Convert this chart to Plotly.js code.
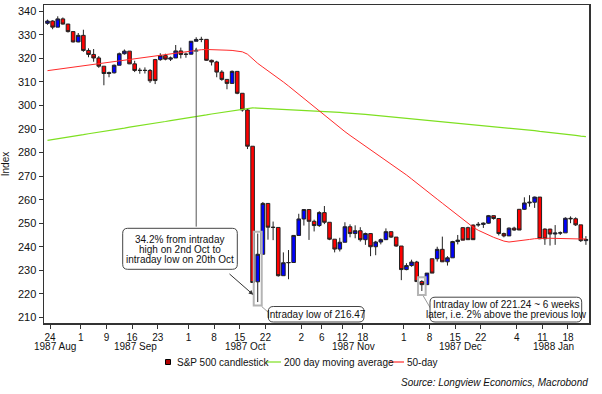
<!DOCTYPE html>
<html><head><meta charset="utf-8">
<script src="https://cdn.plot.ly/plotly-3.0.1.min.js"></script>
<style>html,body{margin:0;padding:0;background:#fff}#chart{width:602px;height:394px}</style>
</head><body><div id="chart"></div>
<script>
// ---- data ----
const dates = ["1987-08-21","1987-08-24","1987-08-25","1987-08-26","1987-08-27","1987-08-28","1987-08-31",
"1987-09-01","1987-09-02","1987-09-03","1987-09-04","1987-09-08","1987-09-09","1987-09-10","1987-09-11",
"1987-09-14","1987-09-15","1987-09-16","1987-09-17","1987-09-18","1987-09-21","1987-09-22","1987-09-23",
"1987-09-24","1987-09-25","1987-09-28","1987-09-29","1987-09-30","1987-10-01","1987-10-02","1987-10-05",
"1987-10-06","1987-10-07","1987-10-08","1987-10-09","1987-10-12","1987-10-13","1987-10-14","1987-10-15",
"1987-10-16","1987-10-19","1987-10-20","1987-10-21","1987-10-22","1987-10-23","1987-10-26","1987-10-27",
"1987-10-28","1987-10-29","1987-10-30","1987-11-02","1987-11-03","1987-11-04","1987-11-05","1987-11-06",
"1987-11-09","1987-11-10","1987-11-11","1987-11-12","1987-11-13","1987-11-16","1987-11-17","1987-11-18",
"1987-11-19","1987-11-20","1987-11-23","1987-11-24","1987-11-25","1987-11-27","1987-11-30","1987-12-01",
"1987-12-02","1987-12-03","1987-12-04","1987-12-07","1987-12-08","1987-12-09","1987-12-10","1987-12-11",
"1987-12-14","1987-12-15","1987-12-16","1987-12-17","1987-12-18","1987-12-21","1987-12-22","1987-12-23",
"1987-12-24","1987-12-28","1987-12-29","1987-12-30","1987-12-31","1988-01-04","1988-01-05","1988-01-06",
"1988-01-07","1988-01-08","1988-01-11","1988-01-12","1988-01-13","1988-01-14","1988-01-15","1988-01-18",
"1988-01-19","1988-01-20","1988-01-21"];

const openV = [334.9,335.9,333.3,336.8,334.6,331.4,327.0,
329.8,323.4,321.7,320.2,316.7,313.6,313.9,317.1,
322.0,323.1,317.7,314.9,314.95,314.9,319.5,319.5,
321.2,319.7,320.2,323.2,321.7,321.8,327.3,328.07,
328.1,319.2,318.5,314.2,311.1,309.4,314.5,305.2,
298.1,282.7,225.1,236.8,258.4,248.3,248.2,227.7,
233.2,233.3,244.8,251.8,255.8,250.8,249.0,254.5,
250.4,243.2,239.0,241.9,248.5,245.6,246.8,243.0,
245.6,240.0,242.0,243.0,246.4,244.1,240.3,230.3,
232.0,233.5,225.2,223.9,234.9,234.9,238.9,233.6,
235.3,242.2,248.1,248.1,249.2,249.2,249.5,250.0,
253.2,252.0,245.6,244.6,247.9,255.9,255.9,258.6,
258.9,261.1,247.5,247.5,245.4,245.8,245.9,252.1,
251.9,249.3,242.6];
const highV = [336.5,336.2,337.9,337.4,334.7,331.5,330.8,
332.2,324.3,324.0,321.0,316.7,314.4,317.4,322.5,
323.8,323.1,319.0,316.0,316.2,315.5,319.8,322.2,
322.0,320.8,325.7,324.6,322.5,327.4,329.0,329.2,
328.1,319.5,319.0,315.0,311.1,314.9,314.5,305.2,
298.9,282.7,245.6,259.0,258.4,250.7,248.2,237.6,
238.6,245.0,254.0,256.0,255.8,251.5,255.1,257.3,
250.4,243.2,243.8,250.4,249.5,249.1,248.3,246.0,
245.6,242.5,243.5,247.8,246.4,244.1,240.3,233.0,
234.5,234.0,225.8,228.8,234.9,240.0,244.3,236.0,
242.5,245.0,248.3,248.5,249.5,250.5,250.3,253.5,
253.3,252.0,246.0,248.2,248.5,256.0,261.0,261.9,
261.3,261.1,247.8,247.6,249.2,246.5,252.5,252.9,
252.5,249.3,244.5];
const lowV = [334.3,332.4,333.3,334.4,331.0,326.8,326.9,
322.8,320.5,318.6,316.0,308.6,312.0,313.6,317.1,
321.6,317.6,314.2,313.5,313.6,309.6,309.1,319.0,
319.2,318.9,320.2,320.0,320.3,321.8,327.3,326.9,
319.0,317.0,312.0,310.5,306.9,309.4,304.8,297.4,
281.5,224.8,216.5,236.8,243.0,242.8,227.3,227.7,
226.2,233.3,244.8,249.0,242.9,246.5,248.4,249.6,
242.8,237.6,238.0,241.9,244.0,243.6,242.2,240.8,
236.0,236.4,241.0,243.0,243.7,240.0,225.8,230.0,
231.5,225.2,221.2,223.9,228.8,233.7,233.5,232.0,
235.3,241.0,242.8,243.0,243.0,248.5,248.0,249.8,
251.5,244.8,244.0,244.6,246.8,247.1,255.6,257.0,
256.5,243.2,240.8,240.5,240.8,245.0,245.9,250.0,
248.8,242.0,240.8];
const closeV = [335.9,333.3,336.8,334.6,331.4,327.0,329.8,
323.4,321.7,320.2,316.7,313.6,313.9,317.1,322.0,
323.1,317.7,314.9,314.95,314.9,310.5,310.6,321.2,
319.7,320.2,323.2,321.7,321.8,327.3,328.07,328.08,
319.2,318.5,314.2,311.1,309.4,314.5,305.2,298.1,
282.7,224.8,236.8,258.4,248.3,248.2,227.7,233.2,
233.3,244.8,251.8,255.8,250.8,249.0,254.5,250.4,
243.2,239.0,241.9,248.5,245.6,246.8,243.0,245.6,
240.0,242.0,243.0,246.4,244.1,240.3,230.3,232.0,
233.5,225.2,223.9,228.8,228.8,238.9,233.6,235.3,
242.2,242.8,242.8,243.0,243.0,249.5,250.0,253.2,
252.0,245.6,244.6,247.9,247.1,247.1,258.6,258.9,
261.1,243.4,243.4,245.4,245.8,245.9,252.1,251.9,
249.3,242.6,243.1];

const ma200 = [285.2,285.5,285.9,286.2,286.6,286.9,287.3,287.6,288.0,288.3,
288.7,289.0,289.4,289.7,290.1,290.4,290.8,291.1,291.5,291.8,
292.2,292.5,292.9,293.2,293.6,293.9,294.3,294.6,295.0,295.3,
295.7,296.0,296.4,296.7,297.1,297.4,297.8,298.1,298.5,298.8,
299.0,298.9,298.8,298.7,298.6,298.5,298.4,298.3,298.2,298.1,
298.0,297.9,297.8,297.6,297.5,297.4,297.2,297.1,296.9,296.8,
296.6,296.4,296.2,296.0,295.8,295.6,295.4,295.2,295.0,294.8,
294.6,294.4,294.2,294.0,293.8,293.6,293.4,293.2,293.0,292.8,
292.6,292.4,292.2,292.0,291.8,291.6,291.4,291.2,291.0,290.8,
290.5,290.3,290.0,289.8,289.5,289.3,289.0,288.8,288.5,288.3,
288.0,287.8,287.5,287.3,287.0,286.8];
const ma50 = [314.8,315.1,315.5,315.8,316.1,316.4,316.7,317.0,317.3,317.5,
317.8,318.1,318.4,318.7,319.0,319.3,319.6,319.9,320.2,320.5,
320.8,321.1,321.4,321.7,322.0,322.3,322.6,322.9,323.2,323.5,
323.7,323.8,323.8,323.7,323.6,323.5,323.4,323.2,322.8,321.8,
319.8,317.9,316.3,314.8,313.3,311.6,310.0,308.3,306.5,304.8,
303.0,301.2,299.3,297.5,295.7,294.0,292.2,290.5,288.9,287.3,
285.8,284.3,282.8,281.3,279.8,278.3,276.8,275.3,273.8,272.2,
270.5,268.8,267.0,265.3,263.6,261.9,260.2,258.5,256.8,255.1,
253.3,251.6,249.8,248.3,247.0,245.9,244.9,244.0,243.2,242.4,
242.0,242.2,242.5,242.8,243.1,243.4,243.6,243.6,243.6,243.5,
243.5,243.5,243.5,243.4,243.3,243.3];

const tickDates = ["1987-08-24","1987-09-01","1987-09-09","1987-09-16","1987-09-23","1987-10-01","1987-10-08",
"1987-10-15","1987-10-22","1987-11-02","1987-11-06","1987-11-12","1987-11-18","1987-12-01","1987-12-08",
"1987-12-15","1987-12-22","1988-01-04","1988-01-11","1988-01-18"];
const tickLabels = ["24","1","9","16","23","1","8","15","22","2","6","12","18","1","8","15","22","4","11","18"];
const monthLabels = ["1987 Aug","1987 Sep","1987 Oct","1987 Nov","1987 Dec","1988 Jan"];
const yTicks = [210,220,230,240,250,260,270,280,290,300,310,320,330,340];

// ---- geometry helpers ----
const W=602,H=394, L=44, R=13, T=5, B=71;
const PW=W-L-R, PH=H-T-B;
const px = v => (v-L)/PW;          // page x -> paper
const py = v => (H-B-v)/PH;        // page y -> paper
const xs = dates.map((d,i)=>i);
const idx = d => dates.indexOf(d);

function roundRect(x0,y0,x1,y1,r){
  const rx=r/PW, ry=r/PH;
  const a=px(x0), b=px(x1), t=py(y0), u=py(y1);
  return `M${a+rx},${t} L${b-rx},${t} Q${b},${t} ${b},${t-ry} L${b},${u+ry} Q${b},${u} ${b-rx},${u} L${a+rx},${u} Q${a},${u} ${a},${u+ry} L${a},${t-ry} Q${a},${t} ${a+rx},${t} Z`;
}

const FONT = 'Arial, "Liberation Sans", sans-serif';
const monthPos = [1.46, 17.16, 38.65, 59.7, 80.56, 98.7];

const traces = [
  {type:'scatter', mode:'lines', x:xs, y:ma200, line:{color:'#7ee021', width:1.2}, hoverinfo:'skip', showlegend:false},
  {type:'scatter', mode:'lines', x:xs, y:ma50, line:{color:'#ff2a2a', width:1}, hoverinfo:'skip', showlegend:false},
  {type:'candlestick', x:xs, open:openV, high:highV, low:lowV, close:closeV,
   increasing:{line:{color:'#222', width:1}, fillcolor:'#0000ff'},
   decreasing:{line:{color:'#222', width:1}, fillcolor:'#ff0000'},
   whiskerwidth:0, hoverinfo:'skip', showlegend:false}
];

const iOct20 = idx("1987-10-20"), iDec4 = idx("1987-12-04"), iOct2 = idx("1987-10-02");

const shapes = [
  {type:'rect', xref:'x', yref:'y', x0:iOct20-0.78, x1:iOct20+0.78, y0:lowV[iOct20]-1.5, y1:highV[iOct20]+0.8,
   line:{color:'#b4b4b4', width:2}, fillcolor:'rgba(0,0,0,0)', layer:'above'},
  {type:'rect', xref:'x', yref:'y', x0:iDec4-0.75, x1:iDec4+0.75, y0:lowV[iDec4]-1.7, y1:highV[iDec4]+1.2,
   line:{color:'#b4b4b4', width:2}, fillcolor:'rgba(0,0,0,0)', layer:'above'},
  {type:'line', xref:'paper', yref:'paper', x0:px(261.7), y0:py(306.5), x1:px(268.5), y1:py(312.5), line:{color:'#999', width:1}},
  {type:'line', xref:'paper', yref:'paper', x0:px(423.3), y0:py(296), x1:px(430.5), y1:py(308.3), line:{color:'#999', width:1}},
  {type:'path', xref:'paper', yref:'paper', path:roundRect(122.7,228.3,237.3,269.3,5), line:{color:'#444', width:1}, fillcolor:'#fff', layer:'above'},
  {type:'path', xref:'paper', yref:'paper', path:roundRect(268.3,306.5,364,322,5), line:{color:'#444', width:1}, fillcolor:'#fff', layer:'above'},
  {type:'path', xref:'paper', yref:'paper', path:roundRect(430,297.2,581.7,322,5), line:{color:'#444', width:1}, fillcolor:'#fff', layer:'above'},
  {type:'rect', xref:'paper', yref:'paper', x0:px(165.5), x1:px(170.5), y0:py(364.5), y1:py(359.5), line:{color:'#000', width:1}, fillcolor:'#b00000'},
  {type:'line', xref:'paper', yref:'paper', x0:px(266), x1:px(281), y0:py(362), y1:py(362), line:{color:'#7ee021', width:1.2}},
  {type:'line', xref:'paper', yref:'paper', x0:px(390), x1:px(404), y0:py(362), y1:py(362), line:{color:'#ff2a2a', width:1.2}}
];

const ann = [];
const txt = (s, x, y, opts={}) => ann.push(Object.assign({text:s, xref:'paper', yref:'paper', x:px(x), y:py(y),
  showarrow:false, xanchor:'center', yanchor:'middle', font:{family:FONT, size:10, color:'#111'}}, opts));
txt("34.2% from intraday", 180, 239.5);
txt("high on 2nd Oct to", 180, 249.6);
txt("intraday low on 20th Oct", 180, 259.7);
txt("Intraday low of 216.47", 316.2, 314.3);
txt("Intraday low of 221.24 ~ 6 weeks", 506, 304.4);
txt("later, i.e. 2% above the previous low", 506, 314.8);
ann.push({text:'', xref:'x', yref:'y', axref:'x', ayref:'y', x:iOct2, y:324.8, ax:iOct2, ay:247.9,
  showarrow:true, arrowhead:2, arrowsize:0.9, arrowwidth:1, arrowcolor:'#555'});
ann.push({text:'', xref:'x', yref:'y', axref:'x', ayref:'y', x:40.13, y:219.6, ax:35.2, ay:229.0,
  showarrow:true, arrowhead:2, arrowsize:0.9, arrowwidth:1, arrowcolor:'#333'});
monthLabels.forEach((m,k)=>ann.push({text:m, xref:'x', yref:'paper', x:monthPos[k], y:py(346.5), showarrow:false,
  xanchor:'center', yanchor:'middle', font:{family:FONT, size:10, color:'#111'}}));
txt("S&P 500 candlestick", 174.5, 362, {xanchor:'left'});
txt("200 day moving average", 281.5, 362, {xanchor:'left'});
txt("50-day", 405, 362, {xanchor:'left'});
txt("Source: Longview Economics, Macrobond", 590, 382.5, {xanchor:'right', font:{family:FONT, size:10, color:'#111', style:'italic'}});

const layout = {
  width:W, height:H, margin:{l:L, r:R, t:T, b:B}, paper_bgcolor:'#fff', plot_bgcolor:'#fff',
  showlegend:false, boxgap:0,
  font:{family:FONT, size:10, color:'#111'},
  xaxis:{type:'linear', range:[-0.68,105.6], rangeslider:{visible:false},
    tickvals:tickDates.map(d=>idx(d)-0.5), ticktext:tickLabels, ticks:'outside', ticklen:4, tickcolor:'#333',
    showline:true, linecolor:'#333', linewidth:1.5, mirror:true, showgrid:false, zeroline:false,
    tickfont:{family:FONT, size:10, color:'#111'}, fixedrange:true},
  yaxis:{range:[207.6,342.7], tickvals:yTicks, ticks:'outside', ticklen:4, tickcolor:'#333',
    showline:true, linecolor:'#333', linewidth:1.5, mirror:true, showgrid:false, zeroline:false,
    tickfont:{family:FONT, size:11, color:'#111'},
    title:{text:'Index', font:{family:FONT, size:10, color:'#111'}, standoff:8}},
  shapes:shapes, annotations:ann
};
Plotly.newPlot('chart', traces, layout, {displayModeBar:false, staticPlot:true});
</script></body></html>
